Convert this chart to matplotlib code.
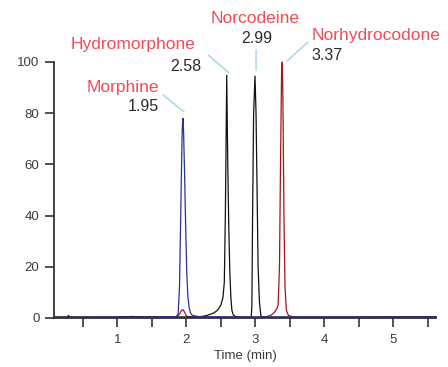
import matplotlib
matplotlib.use('Agg')
import matplotlib.pyplot as plt

plt.rcParams['font.family'] = ['Liberation Sans', 'DejaVu Sans']

# chromatogram traces (time in min, relative intensity)
blue_t = [0.08, 0.5, 1.0, 1.5, 1.85, 1.88, 1.90, 1.915, 1.93, 1.94, 1.95, 1.96, 1.975,
          1.99, 2.005, 2.02, 2.04, 2.06, 2.08, 2.12, 2.2, 3.0, 4.0, 5.0, 5.62]
blue_y = [0.3, 0.3, 0.4, 0.4, 0.5, 1.5, 12, 35, 60, 74, 78, 72, 55,
          35, 18, 9, 4, 2, 1.2, 0.8, 0.5, 0.4, 0.4, 0.4, 0.4]

black_t = [0.08, 0.27, 0.29, 0.31, 0.5, 1.0, 1.2, 1.5, 2.0, 2.2, 2.3, 2.4, 2.45, 2.5,
           2.53, 2.55, 2.565, 2.585, 2.60, 2.615, 2.63, 2.645, 2.66, 2.68, 2.72, 2.8,
           2.9, 2.94, 2.95, 2.96, 2.975, 2.995, 3.01, 3.025, 3.04, 3.06, 3.08, 3.1,
           3.2, 3.5, 4.0, 5.0, 5.62]
black_y = [0.3, 0.3, 1.0, 0.3, 0.3, 0.3, 0.6, 0.3, 0.3, 0.5, 1, 2, 3, 5,
           8, 14, 40, 94.8, 60, 35, 18, 8, 3, 1.2, 0.5, 0.3,
           0.2, 0.3, 5, 40, 80, 94.5, 80, 50, 20, 6, 1, 0.4,
           0.3, 0.3, 0.3, 0.3, 0.3]

red_t = [0.08, 1.0, 1.85, 1.9, 1.93, 1.95, 1.97, 2.0, 2.05, 3.0, 3.15, 3.22, 3.27,
         3.31, 3.33, 3.35, 3.365, 3.38, 3.39, 3.40, 3.415, 3.43, 3.45, 3.48, 3.55,
         4.0, 5.0, 5.62]
red_y = [0.3, 0.3, 0.3, 1.5, 3, 3.2, 2.5, 0.8, 0.3, 0.3, 0.4, 1, 2,
         3.5, 5, 20, 60, 95, 100, 85, 40, 12, 3, 1, 0.4,
         0.3, 0.3, 0.5]

green_t = [0.08, 1.0, 1.5, 2.0, 3.0, 4.0, 5.0, 5.62]
green_y = [0.3, 0.4, 0.5, 0.4, 0.3, 0.3, 0.5, 0.4]

# peak labels: name, retention time, peak top, text positions
names = ['Morphine', 'Hydromorphone', 'Norcodeine', 'Norhydrocodone']
rts = ['1.95', '2.58', '2.99', '3.37']
peak_x = [1.967, 2.62, 3.01, 3.46]
peak_y = [80.5, 95.7, 96.9, 100.4]
lead_x = [1.662, 2.316, 3.01, 3.764]
lead_y = [87.1, 102.7, 104.7, 107.8]
name_x = [1.607, 2.126, 2.996, 3.817]
name_y = [88.4, 105.0, 115.4, 108.6]
rt_x = [1.607, 2.223, 3.025, 3.817]
rt_y = [80.9, 96.5, 107.5, 100.8]
align = ['right', 'right', 'center', 'left']

fig = plt.figure(figsize=(4.48, 3.67), dpi=100)
ax = fig.add_axes([54 / 448, 49 / 367, 382 / 448, 256 / 367])

ax.plot(green_t, green_y, color='#1f6b2e', lw=0.9, clip_on=False)
ax.plot(red_t, red_y, color='#a3151b', lw=0.9, clip_on=False)
ax.plot(black_t, black_y, color='#111111', lw=0.9, clip_on=False)
ax.plot(blue_t, blue_y, color='#2e3192', lw=0.9, clip_on=False)

for i in range(len(names)):
    ax.annotate('', xy=(peak_x[i], peak_y[i]), xytext=(lead_x[i], lead_y[i]),
                arrowprops=dict(arrowstyle='-', color='#9fd4e3', lw=1,
                                shrinkA=0, shrinkB=0),
                annotation_clip=False)
    ax.text(name_x[i], name_y[i], names[i], color='#f04c58', fontsize=12.5,
            ha=align[i], va='baseline', clip_on=False)
    ax.text(rt_x[i], rt_y[i], rts[i], color='#2a2a2a', fontsize=11.5,
            ha=align[i], va='baseline', clip_on=False)

ax.set_xlim(0.08, 5.62)
ax.set_ylim(0, 100)
ax.set_xticks([1, 2, 3, 4, 5])
ax.set_xticks([0.5, 1.5, 2.5, 3.5, 4.5, 5.5], minor=True)
ax.set_yticks([0, 20, 40, 60, 80, 100])
ax.tick_params(which='both', direction='out', length=6.5, width=1.2,
               color='#333333', labelsize=9.5, labelcolor='#3a3a3a')
ax.tick_params(axis='x', pad=5)
ax.tick_params(axis='y', pad=4)
ax.set_xlabel('Time (min)', fontsize=9.5, color='#3a3a3a', labelpad=3)

for s in ['top', 'right']:
    ax.spines[s].set_visible(False)
for s in ['left', 'bottom']:
    ax.spines[s].set_color('#333333')
    ax.spines[s].set_linewidth(1.3)

fig.savefig('out.png', dpi=100)
